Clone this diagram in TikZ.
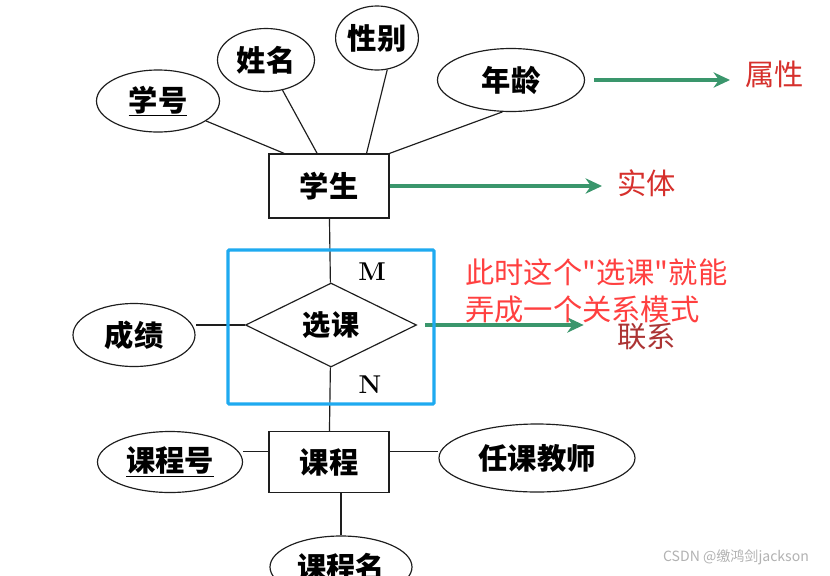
\documentclass[tikz,border=0pt]{standalone}
\usepackage{fontspec}
\newfontfamily\cjk{Noto Sans CJK SC}
\usepackage{xcolor}
\usetikzlibrary{arrows.meta,shapes.geometric}
\definecolor{figline}{RGB}{30,30,30}
\definecolor{figgreen}{RGB}{58,150,108}
\definecolor{figred}{RGB}{214,48,44}
\definecolor{figdred}{RGB}{172,52,52}
\definecolor{fignote}{RGB}{255,64,64}
\definecolor{figblue}{RGB}{30,170,240}
\tikzset{
  attr/.style ={ellipse, draw=figline, line width=1pt, inner sep=0pt,
                font=\cjk\bfseries\fontsize{25}{27}\selectfont},
  ent/.style  ={rectangle, draw=figline, line width=1.1pt, inner sep=0pt,
                minimum width=3.6cm, font=\cjk\bfseries\fontsize{25}{27}\selectfont},
  rel/.style  ={diamond, draw=figline, line width=1pt, inner sep=0pt,
                font=\cjk\bfseries\fontsize{24}{26}\selectfont},
  lnk/.style  ={draw=figline, line width=1pt},
  card/.style ={font=\bfseries\fontsize{22}{24}\selectfont, inner sep=0pt},
  lab/.style  ={anchor=west, inner sep=0pt, font=\cjk\fontsize{25}{27}\selectfont},
  gar/.style  ={draw=figgreen, line width=3pt, -{Stealth[length=14pt,width=13pt]}},
}
\begin{document}
\begin{tikzpicture}[x=0.03cm,y=-0.03cm]
  \useasboundingbox (0,0) rectangle (830,575);
  \fill[white] (0,0) rectangle (830,575);
  % entity student and its attributes
  \node[ent, minimum height=1.92cm] (stu) at (329,186) {学生};
  \node[attr, minimum width=3.69cm, minimum height=1.86cm] (xh) at (158,101) {\underline{学号}};
  \node[attr, minimum width=2.91cm, minimum height=1.89cm] (xm) at (266,60) {姓名};
  \node[attr, minimum width=2.16cm, minimum height=1.92cm] (xb) at (377,38) {性别};
  \node[attr, minimum width=4.41cm, minimum height=1.89cm] (nl) at (511,80) {年龄};
  \draw[lnk] (xh) -- (stu.144);
  \draw[lnk] (xm) -- (stu.110);
  \draw[lnk] (xb.-72) -- (stu.41);
  \draw[lnk] (nl.-105) -- (stu.north east);
  % relationship
  \node[rel, minimum width=5.13cm, minimum height=2.52cm] (xk) at (331,325) {选课};
  \node[attr, minimum width=3.66cm, minimum height=1.89cm] (cj) at (134,335) {成绩};
  \draw[lnk] (stu) -- (xk);
  \draw[lnk] (xk.west) -- (xk.west -| cj.east);
  \node[card] (m) at (372,272) {M};
  \node[card] (n) at (370,385) {N};
  % entity course and its attributes
  \node[ent, minimum height=1.83cm] (kc) at (329,462) {课程};
  \node[attr, minimum width=4.35cm, minimum height=1.83cm] (kch) at (170,462) {\underline{课程号}};
  \node[attr, minimum width=5.88cm, minimum height=2.04cm] (rkjs) at (537,458) {任课教师};
  \node[attr, minimum width=4.26cm, minimum height=1.86cm] (kcm) at (341,567) {课程名};
  \draw[lnk] (xk) -- (kc);
  \draw[lnk] (kc.170) -- (kc.170 -| kch.east);
  \draw[lnk] (kc.10) -- (kc.10 -| rkjs.west);
  \draw[lnk] (kcm) -- (kcm |- kc.south);
  % legend labels
  \node[lab, text=figred] (sx) at (745,74) {属性};
  \node[lab, text=figred] (st) at (617,183) {实体};
  \node[lab, text=figdred] (lx) at (617,337) {联系};
  \draw[gar, shorten <=0.27cm, shorten >=0.45cm] (nl.east) -- (nl.east -| sx.west);
  \draw[gar, shorten >=0.45cm] (stu.east) -- (stu.east -| st.west);
  \draw[gar, shorten <=0.24cm, shorten >=1.0cm] (xk.east) -- (xk.east -| lx.west);
  % note
  \draw[figblue, line width=2.8pt, rounded corners=1pt] (228,250) rectangle (434,404);
  \node[anchor=north west, inner sep=0pt, align=left, text=fignote,
        font=\cjk\fontsize{25}{32}\selectfont] (note) at (465,258)
        {此时这个"选课"就能\\弄成一个关系模式};
  \node[inner sep=0pt, text=black!30, font=\cjk\fontsize{12}{14}\selectfont] (wm) at (736,557)
        {CSDN @缴鸿剑jackson};
\end{tikzpicture}
\end{document}
